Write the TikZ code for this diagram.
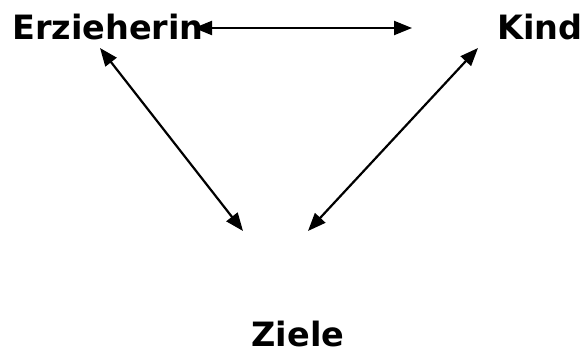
\documentclass[tikz,border=0pt]{standalone}
\usepackage{fontspec}
\setmainfont{DejaVu Sans}
\usetikzlibrary{arrows.meta}
\begin{document}
\begin{tikzpicture}[x=1pt,y=1pt,
  lbl/.style={font=\bfseries\fontsize{33.5}{38}\selectfont, inner sep=0pt, anchor=base},
  arr/.style={line width=2.2pt, {Triangle[length=18pt,width=14pt]}-{Triangle[length=18pt,width=14pt]}}]
\useasboundingbox (0,0) rectangle (587,356);
\node[lbl] (E) at (108,316) {Erzieherin};
\node[lbl, anchor=base east] (K) at (583,316) {Kind};
\node[lbl] (Z) at (298,9) {Ziele};
\coordinate (et) at (194,328);
\coordinate (kt) at (412,328);
\coordinate (ed) at (100,308);
\coordinate (zl) at (243,125);
\coordinate (kd) at (478,308);
\coordinate (zr) at (308,125);
\draw[arr] (et) -- (kt);
\draw[arr] (ed) -- (zl);
\draw[arr] (kd) -- (zr);
\end{tikzpicture}
\end{document}
